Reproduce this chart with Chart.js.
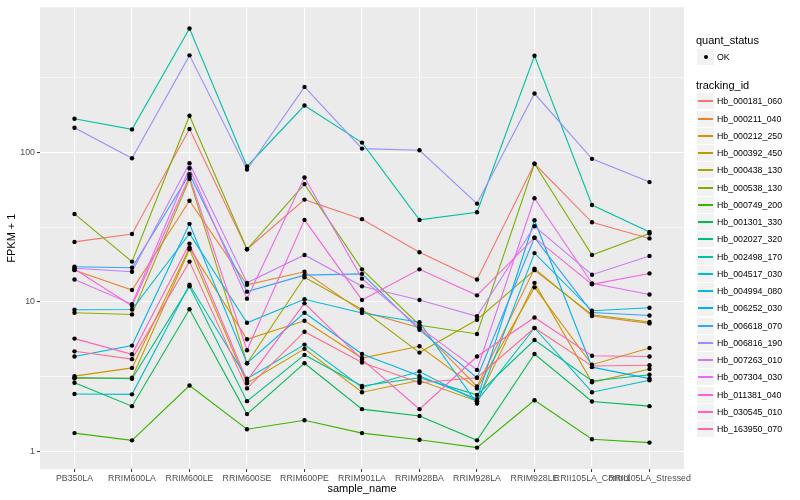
<!DOCTYPE html>
<html lang="en">
<head>
<meta charset="UTF-8">
<title>FPKM + 1 by sample</title>
<script src="https://cdn.jsdelivr.net/npm/chart.js"></script>
<style>
  html, body { margin: 0; padding: 0; background: #fff; }
  #wrap { position: relative; width: 800px; height: 500px; font-family: "Liberation Sans", Arial, sans-serif; }
  #legend { position: absolute; left: 0; top: 0; width: 800px; height: 500px; pointer-events: none; }
  .lg-title { position: absolute; left: 696px; font-size: 11px; line-height: 13px; color: #000; white-space: nowrap; }
  .lg-key { position: absolute; left: 697px; width: 17px; height: 16px; background: #f2f2f2; }
  .lg-line { position: absolute; left: 1px; top: 7px; width: 15px; height: 2px; }
  .lg-dot { position: absolute; left: 6.5px; top: 6px; width: 4px; height: 4px; border-radius: 50%; background: #000; }
  .lg-text { position: absolute; left: 717px; font-size: 8.8px; line-height: 10px; color: #000; white-space: nowrap; }
</style>
</head>
<body>
<div id="wrap">
  <canvas id="chart" width="800" height="500"></canvas>
  <div id="legend"></div>
</div>
<script>
// samples on the x axis
const sampleNames = ['PB350LA', 'RRIM600LA', 'RRIM600LE', 'RRIM600SE', 'RRIM600PE', 'RRIM901LA',
  'RRIM928BA', 'RRIM928LA', 'RRIM928LE', 'RRII105LA_Control', 'RRII105LA_Stressed'];

const trackingIds = ['Hb_000181_060', 'Hb_000211_040', 'Hb_000212_250', 'Hb_000392_450', 'Hb_000438_130',
  'Hb_000538_130', 'Hb_000749_200', 'Hb_001301_330', 'Hb_002027_320', 'Hb_002498_170',
  'Hb_004517_030', 'Hb_004994_080', 'Hb_006252_030', 'Hb_006618_070', 'Hb_006816_190',
  'Hb_007263_010', 'Hb_007304_030', 'Hb_011381_040', 'Hb_030545_010', 'Hb_163950_070'];

const trackColors = ['#F8766D', '#EA8331', '#D89000', '#C09B00', '#A3A500', '#7CAE00', '#39B600', '#00BB4E',
  '#00BF7D', '#00C1A3', '#00BFC4', '#00BAE0', '#00B0F6', '#35A2FF', '#9590FF', '#C77CFF',
  '#E76BF3', '#FA62DB', '#FF62BC', '#FF6C91'];

// FPKM + 1, one array per gene, in sample order
const hb000181_060 = [25.2, 28.5, 143.9, 22.5, 48.4, 35.8, 21.5, 14.1, 84.1, 34.1, 26.6];
const hb000211_040 = [16.3, 12.0, 47.6, 13.0, 15.9, 8.6, 6.71, 2.71, 16.7, 8.03, 7.17];
const hb000212_250 = [3.18, 3.61, 23.0, 5.61, 7.47, 4.2, 5.04, 2.63, 12.5, 3.79, 4.91];
const hb000392_450 = [3.07, 3.1, 22.5, 2.85, 4.84, 2.48, 2.97, 2.16, 13.4, 2.89, 3.55];
const hb000438_130 = [8.45, 8.23, 66.4, 3.88, 14.6, 8.89, 4.57, 7.59, 16.3, 8.19, 7.33];
const hb000538_130 = [38.8, 18.6, 176.5, 22.5, 61.5, 16.5, 6.97, 6.09, 84.1, 20.6, 28.7];
const hb000749_200 = [1.32, 1.18, 2.75, 1.4, 1.61, 1.32, 1.19, 1.055, 2.19, 1.2, 1.14];
const hb001301_330 = [2.87, 2.0, 8.91, 1.77, 3.88, 1.91, 1.72, 1.18, 4.47, 2.15, 2.0];
const hb002027_320 = [3.11, 3.05, 12.7, 2.16, 4.41, 2.73, 3.1, 2.38, 5.55, 2.95, 3.25];
const hb002498_170 = [168.5, 143.0, 678, 80.7, 206.7, 116.6, 35.4, 39.8, 445.4, 44.5, 29.4];
const hb004517_030 = [2.41, 2.4, 13.0, 3.05, 5.17, 2.67, 3.41, 2.16, 6.68, 2.48, 2.98];
const hb004994_080 = [8.84, 8.89, 28.6, 7.24, 10.4, 8.42, 7.3, 2.08, 21.2, 8.71, 9.12];
const hb006252_030 = [4.3, 5.09, 33.3, 3.88, 8.45, 4.47, 3.18, 2.23, 35.2, 3.65, 3.06];
const hb006618_070 = [17.2, 16.9, 71.7, 11.7, 15.1, 15.4, 6.49, 3.1, 26.9, 8.49, 8.09];
const hb006816_190 = [146.8, 91.6, 448, 77.0, 275.4, 106.3, 103.6, 45.5, 248.5, 90.8, 63.4];
const hb007263_010 = [16.8, 15.9, 84.9, 13.4, 20.6, 12.7, 10.3, 8.0, 32.1, 15.2, 20.3];
const hb007304_030 = [14.1, 9.65, 78.6, 10.5, 68.1, 14.3, 6.74, 3.5, 49.4, 13.3, 11.2];
const hb011381_040 = [16.6, 9.4, 69.2, 4.74, 35.4, 10.3, 16.5, 11.05, 26.9, 13.1, 15.5];
const hb030545_010 = [5.67, 4.45, 24.5, 2.97, 9.77, 4.11, 1.91, 4.3, 7.86, 4.35, 4.3];
const hb163950_070 = [4.66, 4.13, 18.6, 2.63, 6.31, 3.92, 2.87, 3.1, 6.68, 3.72, 3.76];

const seriesValues = [hb000181_060, hb000211_040, hb000212_250, hb000392_450, hb000438_130,
  hb000538_130, hb000749_200, hb001301_330, hb002027_320, hb002498_170,
  hb004517_030, hb004994_080, hb006252_030, hb006618_070, hb006816_190,
  hb007263_010, hb007304_030, hb011381_040, hb030545_010, hb163950_070];

// y axis: labelled breaks and the minor grid between them
const yTickValues = [1, 10, 100];
const yTickLabels = ['1', '10', '100'];
const yMinorValues = [3.1623, 31.623, 316.23];

Chart.defaults.font.family = '"Liberation Sans", Arial, sans-serif';

const panelBg = {
  id: 'panelBg',
  beforeDraw(chart) {
    const { ctx, chartArea: a } = chart;
    ctx.save();
    ctx.fillStyle = '#ffffff';
    ctx.fillRect(0, 0, chart.width, chart.height);
    ctx.fillStyle = '#EBEBEB';
    ctx.fillRect(a.left, a.top, a.right - a.left, a.bottom - a.top);
    ctx.restore();
  }
};

function isMajorY(v) {
  return yTickValues.some(t => Math.abs(t - v) < 1e-6);
}

const lineSets = trackingIds.map((id, i) => ({
  label: id,
  data: seriesValues[i].map((v, j) => ({ x: j, y: v })),
  borderColor: trackColors[i],
  backgroundColor: trackColors[i],
  borderWidth: 1.1,
  pointRadius: 0,
  fill: false,
  tension: 0,
  order: 100 - i
}));

// quant_status = OK for every point, drawn on top of all lines
const pointSets = trackingIds.map((id, i) => ({
  label: id + ' OK',
  data: seriesValues[i].map((v, j) => ({ x: j, y: v })),
  showLine: false,
  pointRadius: 2.2,
  pointBackgroundColor: '#000',
  pointBorderWidth: 0,
  order: 0
}));

new Chart(document.getElementById('chart'), {
  type: 'line',
  data: { datasets: lineSets.concat(pointSets) },
  options: {
    responsive: false,
    animation: false,
    devicePixelRatio: 1,
    layout: { padding: { left: 0, right: 116, top: 5, bottom: 0 } },
    plugins: { legend: { display: false }, tooltip: { enabled: false } },
    scales: {
      x: {
        type: 'linear',
        min: -0.6,
        max: 10.6,
        afterBuildTicks(scale) {
          scale.ticks = sampleNames.map((_, i) => ({ value: i }));
        },
        afterFit(scale) { scale.height = 31; },
        border: { display: false },
        grid: { color: '#ffffff', lineWidth: 1.1, tickColor: '#333333', tickLength: 3, tickWidth: 1 },
        ticks: {
          autoSkip: false, maxRotation: 0, minRotation: 0,
          color: '#4D4D4D', font: { size: 8.8 }, padding: 1,
          callback: v => sampleNames[v]
        },
        title: {
          display: true, text: 'sample_name', color: '#000',
          font: { size: 11 }, padding: { top: 0, bottom: 4.7 }
        }
      },
      y: {
        type: 'logarithmic',
        min: 0.7586,
        max: 940.6,
        afterBuildTicks(scale) {
          scale.ticks = yTickValues.concat(yMinorValues).sort((a, b) => a - b).map(v => ({ value: v }));
        },
        afterFit(scale) { scale.width = 40; },
        border: { display: false },
        grid: {
          color: '#ffffff',
          lineWidth: ctx => (ctx.tick && isMajorY(ctx.tick.value)) ? 1.1 : 0.55,
          tickColor: ctx => (ctx.tick && isMajorY(ctx.tick.value)) ? '#333333' : 'rgba(0,0,0,0)',
          tickLength: 3,
          tickWidth: 1
        },
        ticks: {
          autoSkip: false, color: '#4D4D4D', font: { size: 8.8 }, padding: 2,
          callback: v => {
            const k = yTickValues.findIndex(t => Math.abs(t - v) < 1e-6);
            return k >= 0 ? yTickLabels[k] : '';
          }
        },
        title: {
          display: true, text: 'FPKM + 1', color: '#000',
          font: { size: 11 }, padding: { top: 5.4, bottom: 0 }
        }
      }
    }
  },
  plugins: [panelBg]
});

// ggplot style legend on the right
const legend = document.getElementById('legend');
function addEl(cls, top, text) {
  const d = document.createElement('div');
  d.className = cls;
  d.style.top = top + 'px';
  if (text) d.textContent = text;
  legend.appendChild(d);
  return d;
}
addEl('lg-title', 33.5, 'quant_status');
const okKey = addEl('lg-key', 49, '');
okKey.appendChild(Object.assign(document.createElement('div'), { className: 'lg-dot' }));
addEl('lg-text', 52, 'OK');
addEl('lg-title', 78.5, 'tracking_id');
trackingIds.forEach((id, i) => {
  const cy = Math.round(101.3 + i * 17.26);
  const key = addEl('lg-key', cy - 8, '');
  const ln = document.createElement('div');
  ln.className = 'lg-line';
  ln.style.background = trackColors[i];
  key.appendChild(ln);
  addEl('lg-text', cy - 5, id);
});
</script>
</body>
</html>
